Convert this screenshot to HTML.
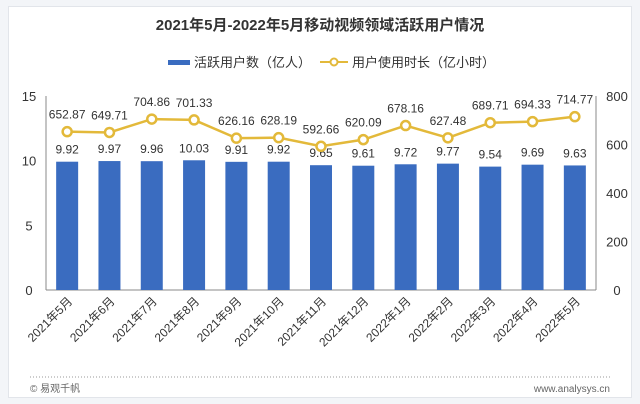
<!DOCTYPE html>
<html><head><meta charset="utf-8"><style>
body{margin:0;background:#f3f5f8;font-family:"Liberation Sans","Noto Sans CJK SC",sans-serif;}
#wrap{position:relative;width:640px;height:404px;overflow:hidden;}
#card{position:absolute;left:8px;top:6px;width:622px;height:390px;background:#fff;border:1px solid #e2e5ea;}
</style></head><body>
<div id="wrap">
<div id="card"></div>
<svg id="chart" width="640" height="404" style="position:absolute;left:0;top:0"></svg>
</div>
<script>
const categories=["2021年5月","2021年6月","2021年7月","2021年8月","2021年9月","2021年10月","2021年11月","2021年12月","2022年1月","2022年2月","2022年3月","2022年4月","2022年5月"];
const users=[9.92,9.97,9.96,10.03,9.91,9.92,9.65,9.61,9.72,9.77,9.54,9.69,9.63];
const hours=[652.87,649.71,704.86,701.33,626.16,628.19,592.66,620.09,678.16,627.48,689.71,694.33,714.77];
const leftTicks=[0,5,10,15];
const rightTicks=[0,200,400,600,800];
const NS="http://www.w3.org/2000/svg";
const svg=document.getElementById('chart');
const X0=46,X1=596,Y0=290,Y1=96;
const band=(X1-X0)/categories.length;
const xc=i=>X0+band*(i+0.5);
const yL=v=>Y0-(v/15)*(Y0-Y1);
const yR=v=>Y0-(v/800)*(Y0-Y1);
function mk(tag,attrs,text){const e=document.createElementNS(NS,tag);for(const k in attrs)e.setAttribute(k,attrs[k]);if(text!==undefined)e.textContent=text;svg.appendChild(e);return e;}
let t=mk('text',{x:320,y:30,'text-anchor':'middle','font-size':15,'font-weight':'bold',fill:'#333'},'2021年5月-2022年5月移动视频领域活跃用户情况');


let e=mk('rect',{x:168,y:60,width:22,height:5,fill:'#3a6cc0'});


e=mk('text',{x:194,y:67,'font-size':13,fill:'#333'},'活跃用户数（亿人）');


e=mk('line',{x1:320,y1:62,x2:348,y2:62,stroke:'#e3b93a','stroke-width':2});


e=mk('circle',{cx:334,cy:62,r:3.5,fill:'#fff',stroke:'#e3b93a','stroke-width':2});


e=mk('text',{x:352,y:67,'font-size':13,fill:'#333'},'用户使用时长（亿小时）');


e=mk('line',{x1:X0,y1:Y1,x2:X0,y2:Y0,stroke:'#888'});


e=mk('line',{x1:X1,y1:Y1,x2:X1,y2:Y0,stroke:'#888'});


e=mk('line',{x1:X0,y1:Y0,x2:X1,y2:Y0,stroke:'#888'});


leftTicks.forEach(v=>{const el=mk('text',{x:29,y:yL(v)+5,'text-anchor':'middle','font-size':13,fill:'#333'},String(v));

});
rightTicks.forEach(v=>{const el=mk('text',{x:617,y:yR(v)+5,'text-anchor':'middle','font-size':13,fill:'#333'},String(v));

});
users.forEach((v,i)=>{const w=22;const r=mk('rect',{x:xc(i)-w/2,y:yL(v),width:w,height:Y0-yL(v),fill:'#3a6cc0'});


const l=mk('text',{x:xc(i),y:yL(v)-8,'text-anchor':'middle','font-size':12,fill:'#333'},v.toFixed(2));

});
const pts=hours.map((v,i)=>xc(i)+','+yR(v)).join(' ');
e=mk('polyline',{points:pts,fill:'none',stroke:'#e3b93a','stroke-width':2.5});


hours.forEach((v,i)=>{const c=mk('circle',{cx:xc(i),cy:yR(v),r:4.5,fill:'#fff',stroke:'#e3b93a','stroke-width':2.5});


const l=mk('text',{x:xc(i),y:yR(v)-13,'text-anchor':'middle','font-size':12,fill:'#333'},v.toFixed(2));

});
categories.forEach((c,i)=>{const x=xc(i)+6,y=Y0+12;const l=mk('text',{x:x,y:y,'text-anchor':'end','font-size':12,fill:'#333',transform:`rotate(-45 ${x} ${y})`},c);

});
e=mk('line',{x1:30,y1:377,x2:612,y2:377,stroke:'#999','stroke-dasharray':'1 2'});


e=mk('text',{x:30,y:392,'font-size':10,fill:'#666'},'© 易观千帆');


e=mk('text',{x:610,y:392,'text-anchor':'end','font-size':10,fill:'#666'},'www.analysys.cn');


</script>
</body></html>
